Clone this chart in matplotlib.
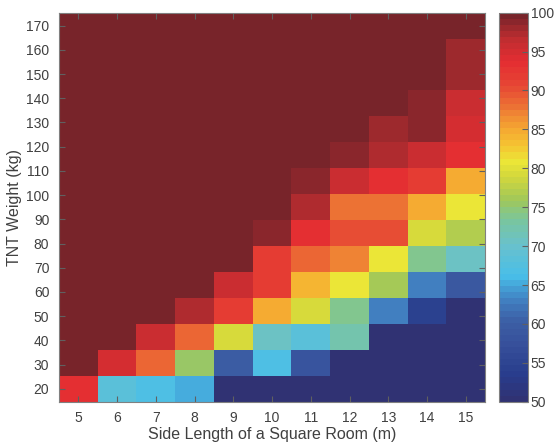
"""
heatmap of TNT weight vs. side length of a square room
"""

import numpy as np
import matplotlib
matplotlib.use('Agg')
import matplotlib.pyplot as plt
from matplotlib.colors import LinearSegmentedColormap, ListedColormap

# side length of the room (m), one column each
side_length = [5, 6, 7, 8, 9, 10, 11, 12, 13, 14, 15]
# TNT weight (kg), 15 rows spread from 20 to 170
tnt_weight = np.linspace(20, 170, 15)

# values, bottom row (20 kg) first
row01 = [93, 68, 66.5, 65.5, 50, 50, 50, 50, 50, 50, 50]
row02 = [100, 95, 89, 75, 60, 66.5, 58.5, 50, 50, 50, 50]
row03 = [100, 100, 96, 89, 79, 70.5, 68, 72, 50, 50, 50]
row04 = [100, 100, 100, 97.5, 92, 85, 79.5, 73.5, 62.5, 54, 50]
row05 = [100, 100, 100, 100, 96, 91.5, 84, 81, 76.5, 63, 59]
row06 = [100, 100, 100, 100, 100, 91.5, 89, 87, 81, 74, 71]
row07 = [100, 100, 100, 100, 100, 98.5, 93.5, 90.5, 90.5, 79, 77]
row08 = [100, 100, 100, 100, 100, 100, 97.5, 88, 88, 85, 81]
row09 = [100, 100, 100, 100, 100, 100, 98.5, 96, 93.5, 91.5, 85]
row10 = [100, 100, 100, 100, 100, 100, 100, 99, 97.5, 96, 93.5]
row11 = [100, 100, 100, 100, 100, 100, 100, 100, 98, 99, 95]
row12 = [100, 100, 100, 100, 100, 100, 100, 100, 100, 99, 96]
row13 = [100, 100, 100, 100, 100, 100, 100, 100, 100, 100, 98]
row14 = [100, 100, 100, 100, 100, 100, 100, 100, 100, 100, 98]
row15 = [100, 100, 100, 100, 100, 100, 100, 100, 100, 100, 100]

cbar_ticks = [50, 55, 60, 65, 70, 75, 80, 85, 90, 95, 100]


def make_cmap():
    """
    discrete jet-like map, navy -> cyan -> yellow -> red -> dark red
    """
    stops = [
        (50, (48, 50, 115)), (53, (40, 60, 140)), (57, (55, 80, 155)),
        (60, (60, 95, 165)), (63, (65, 130, 195)), (66, (72, 190, 232)),
        (70, (105, 193, 205)), (73, (120, 197, 160)), (76, (160, 200, 90)),
        (79, (210, 215, 60)), (81, (235, 230, 55)), (83, (245, 195, 50)),
        (85, (245, 170, 50)), (88, (237, 118, 52)), (91, (230, 70, 52)),
        (94, (228, 45, 50)), (97, (190, 45, 48)), (100, (120, 36, 42))]
    pts = [((v - 50) / 50, tuple(c / 255 for c in rgb)) for v, rgb in stops]
    smooth = LinearSegmentedColormap.from_list('room', pts)
    return ListedColormap(smooth(np.linspace(0, 1, 64)))


def main():
    plt.rcParams['font.family'] = ['Liberation Sans', 'DejaVu Sans']
    grid = np.array([row01, row02, row03, row04, row05, row06, row07, row08,
                     row09, row10, row11, row12, row13, row14, row15])

    x = np.array(side_length, dtype=float)
    xedges = np.concatenate([x - 0.5, [x[-1] + 0.5]])
    dy = tnt_weight[1] - tnt_weight[0]
    yedges = np.concatenate([tnt_weight - dy / 2, [tnt_weight[-1] + dy / 2]])

    fig = plt.figure(figsize=(5.55, 4.48), dpi=100)
    ax = fig.add_axes([0.1063, 0.1033, 0.7677, 0.8684])
    cax = fig.add_axes([0.8995, 0.1033, 0.0515, 0.8684])

    mesh = ax.pcolormesh(xedges, yedges, grid, cmap=make_cmap(),
                         vmin=50, vmax=100, shading='flat')
    ax.set_xlim(xedges[0], xedges[-1])
    ax.set_ylim(yedges[0], yedges[-1])
    ax.set_xticks(side_length)
    ax.set_yticks(np.arange(20, 171, 10))

    grey = '#808080'
    txt = '#404040'
    ax.tick_params(direction='in', top=True, right=True, length=4,
                   color='#606060', labelcolor=txt, labelsize=10, pad=7)
    for spine in ax.spines.values():
        spine.set_color(grey)
    ax.set_xlabel('Side Length of a Square Room (m)', fontsize=11.5,
                  color=txt, labelpad=1)
    ax.set_ylabel('TNT Weight (kg)', fontsize=11.5, color=txt, labelpad=3)

    cb = fig.colorbar(mesh, cax=cax, ticks=cbar_ticks)
    cb.outline.set_edgecolor(grey)
    cax.tick_params(direction='in', length=4, color='#606060',
                    labelcolor=txt, labelsize=10, pad=2)

    fig.savefig('out.png', dpi=100)


if __name__ == '__main__':
    main()
